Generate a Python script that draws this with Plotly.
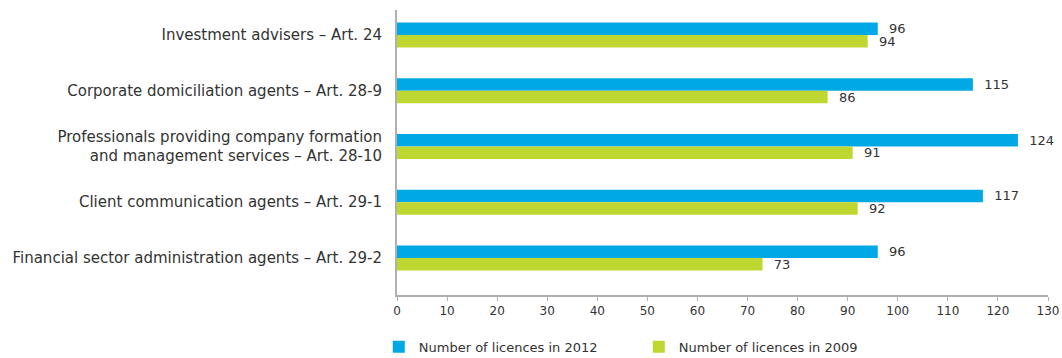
import plotly.graph_objects as go

categories = [
    "Investment advisers – Art. 24",
    "Corporate domiciliation agents – Art. 28-9",
    "Professionals providing company formation<br>and management services – Art. 28-10",
    "Client communication agents – Art. 29-1",
    "Financial sector administration agents – Art. 29-2",
]
licences_2012 = [96, 115, 124, 117, 96]
licences_2009 = [94, 86, 91, 92, 73]
tick_values = [0, 10, 20, 30, 40, 50, 60, 70, 80, 90, 100, 110, 120, 130]

BLUE = "#00A9E6"
GREEN = "#C0D732"
FONT = "DejaVu Sans"
TXT = "#333333"
AXIS = "#B0B0B0"

fig = go.Figure()
for name, vals, col in [
    ("Number of licences in 2012", licences_2012, BLUE),
    ("Number of licences in 2009", licences_2009, GREEN),
]:
    fig.add_trace(go.Bar(
        y=categories, x=vals, orientation="h", name=name,
        marker=dict(color=col, line=dict(width=0)),
        text=vals, texttemplate="\u00a0\u00a0%{text}", textposition="outside",
        cliponaxis=False, constraintext="none",
        textfont=dict(size=13, color=TXT, family=FONT),
    ))

fig.update_layout(
    width=1062, height=358,
    margin=dict(l=397, r=14, t=10, b=63, autoexpand=False),
    barmode="group", bargap=0.55, bargroupgap=0,
    plot_bgcolor="white", paper_bgcolor="white",
    font=dict(family=FONT, color=TXT, size=13),
    showlegend=True,
    legend=dict(
        orientation="h", x=-0.028, xanchor="left", y=-0.182, yanchor="middle",
        font=dict(size=13, color=TXT, family=FONT),
        entrywidth=215, entrywidthmode="pixels",
        traceorder="normal",
    ),
)
fig.update_xaxes(
    range=[0, 130], tickvals=tick_values, showgrid=False, zeroline=False,
    showline=True, linecolor=AXIS, linewidth=1.5,
    ticks="outside", ticklen=4, tickcolor=AXIS, tickwidth=1,
    tickfont=dict(size=12, color=TXT, family=FONT),
)
fig.update_yaxes(
    range=[4.664, -0.448], showgrid=False, zeroline=False,
    showline=True, linecolor=AXIS, linewidth=2, ticks="",
    ticklabelstandoff=10,
    tickfont=dict(size=15, color=TXT, family=FONT),
)

fig.write_html("out.html")
